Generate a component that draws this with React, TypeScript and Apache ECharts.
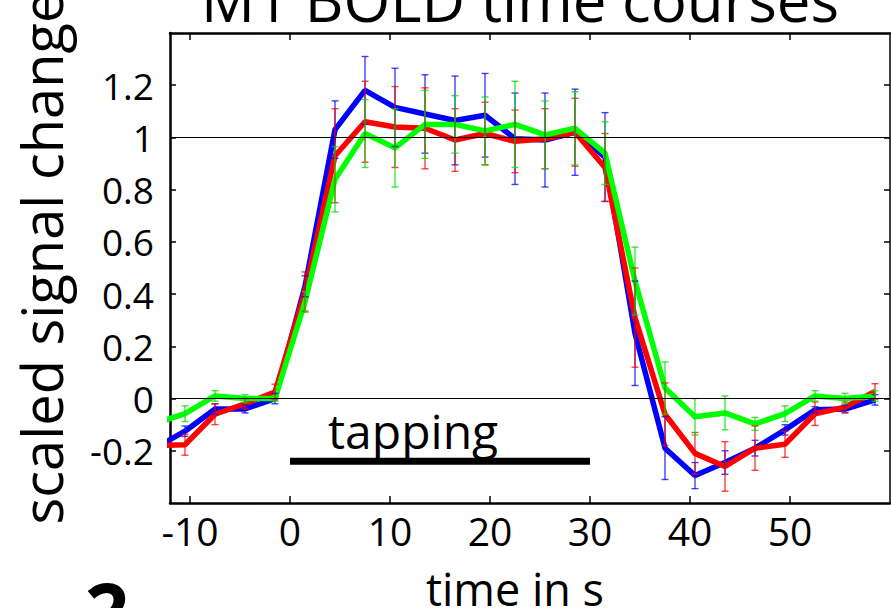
import React, { useEffect, useRef } from "react";
import * as echarts from "echarts";

// time points (s)
const T = [-13.5, -10.5, -7.5, -4.5, -1.5, 1.5, 4.5, 7.5, 10.5, 13.5, 16.5, 19.5, 22.5, 25.5, 28.5, 31.5, 34.5, 37.5, 40.5, 43.5, 46.5, 49.5, 52.5, 55.5, 58.5];

const blueVals = [-0.19, -0.125, -0.04, -0.04, 0.0, 0.43, 1.03, 1.18, 1.115, 1.09, 1.065, 1.085, 0.995, 0.99, 1.02, 0.925, 0.25, -0.19, -0.295, -0.245, -0.19, -0.12, -0.043, -0.04, -0.005];
const blueErr = [null, 0.02, 0.02, 0.015, 0.02, 0.04, 0.11, 0.13, 0.15, 0.15, 0.17, 0.16, 0.175, 0.18, 0.165, 0.17, 0.2, 0.12, 0.05, 0.045, 0.03, 0.02, 0.012, 0.015, 0.02];

const redVals = [-0.18, -0.177, -0.06, -0.02, 0.025, 0.41, 0.93, 1.06, 1.04, 1.035, 0.99, 1.015, 0.985, 0.995, 1.02, 0.885, 0.31, -0.06, -0.21, -0.26, -0.19, -0.175, -0.058, -0.033, 0.027];
const redErr = [null, 0.04, 0.04, 0.02, 0.03, 0.075, 0.18, 0.155, 0.155, 0.155, 0.12, 0.12, 0.12, 0.115, 0.13, 0.13, 0.19, 0.12, 0.08, 0.095, 0.085, 0.05, 0.045, 0.02, 0.03];

const greenVals = [-0.095, -0.058, 0.01, 0.0, 0.0, 0.37, 0.84, 1.015, 0.96, 1.05, 1.05, 1.025, 1.05, 1.01, 1.035, 0.94, 0.45, 0.04, -0.07, -0.055, -0.097, -0.058, 0.01, 0.0, 0.01];
const greenErr = [null, 0.03, 0.02, 0.015, 0.01, 0.04, 0.125, 0.13, 0.15, 0.13, 0.11, 0.13, 0.165, 0.13, 0.14, 0.12, 0.13, 0.1, 0.07, 0.065, 0.025, 0.03, 0.02, 0.02, 0.02];

const xTicks = [-10, 0, 10, 20, 30, 40, 50];
const yTicks = [-0.2, 0, 0.2, 0.4, 0.6, 0.8, 1, 1.2];
const refLines = [0, 1];
const tappingStart = 0;
const tappingEnd = 30;
const tappingLevel = -0.24;

const FONT = "'Open Sans', 'DejaVu Sans', sans-serif";

function lineSeries(vals: number[], color: string) {
  return {
    type: "line",
    data: T.map((t, i) => [t, vals[i]]),
    symbol: "none",
    lineStyle: { color, width: 5.5 },
    itemStyle: { color },
    clip: true,
    z: 3,
  };
}

function errSeries(vals: number[], errs: (number | null)[], color: string) {
  const data: number[][] = [];
  T.forEach((t, i) => {
    const e = errs[i];
    if (e != null) data.push([t, vals[i] - e, vals[i] + e]);
  });
  return {
    type: "custom",
    data,
    encode: { x: 0, y: [1, 2] },
    clip: true,
    z: 4,
    renderItem: (params: any, api: any) => {
      const x = api.value(0);
      const p1 = api.coord([x, api.value(1)]);
      const p2 = api.coord([x, api.value(2)]);
      const w = 3.5;
      const style = { stroke: color, lineWidth: 1.4, opacity: 0.75 };
      return {
        type: "group",
        children: [
          { type: "line", shape: { x1: p1[0], y1: p1[1], x2: p2[0], y2: p2[1] }, style },
          { type: "line", shape: { x1: p1[0] - w, y1: p1[1], x2: p1[0] + w, y2: p1[1] }, style },
          { type: "line", shape: { x1: p2[0] - w, y1: p2[1], x2: p2[0] + w, y2: p2[1] }, style },
        ],
      };
    },
  };
}

export default function App() {
  const ref = useRef<HTMLDivElement>(null);
  useEffect(() => {
    if (!ref.current) return;
    const chart = echarts.init(ref.current, null, { renderer: "svg" });
    const axisLineStyle = { color: "#000", width: 2.5 };
    const tickStyle = { color: "#000", width: 1.5 };
    chart.setOption({
      animation: false,
      backgroundColor: "#fff",
      grid: { left: 170, right: 1, top: 33, bottom: 105, containLabel: false },
      xAxis: [
        {
          type: "value",
          min: -12,
          max: 60,
          position: "bottom",
          axisLine: { show: true, onZero: false, lineStyle: axisLineStyle },
          axisTick: { show: true, inside: true, length: 7, customValues: xTicks, lineStyle: tickStyle },
          axisLabel: { show: true, customValues: xTicks, color: "#000", fontFamily: FONT, fontSize: 39, margin: 8 },
          splitLine: { show: false },
        },
        {
          type: "value",
          min: -12,
          max: 60,
          position: "top",
          axisLine: { show: true, onZero: false, lineStyle: axisLineStyle },
          axisTick: { show: true, inside: true, length: 7, customValues: xTicks, lineStyle: tickStyle },
          axisLabel: { show: false },
          splitLine: { show: false },
        },
      ],
      yAxis: [
        {
          type: "value",
          min: -0.4,
          max: 1.4,
          position: "left",
          axisLine: { show: true, onZero: false, lineStyle: axisLineStyle },
          axisTick: { show: true, inside: true, length: 6, customValues: yTicks, lineStyle: tickStyle },
          axisLabel: {
            show: true,
            customValues: yTicks,
            color: "#000",
            fontFamily: FONT,
            fontSize: 37,
            margin: 16,
            formatter: (v: number) => String(Number(v.toFixed(1))),
          },
          splitLine: { show: false },
        },
        {
          type: "value",
          min: -0.4,
          max: 1.4,
          position: "right",
          axisLine: { show: true, onZero: false, lineStyle: { color: "#000", width: 1.5 } },
          axisTick: { show: true, inside: true, length: 6, customValues: yTicks, lineStyle: tickStyle },
          axisLabel: { show: false },
          splitLine: { show: false },
        },
      ],
      series: [
        {
          type: "line",
          data: [
            [tappingStart, tappingLevel],
            [tappingEnd, tappingLevel],
          ],
          symbol: "none",
          lineStyle: { color: "#000", width: 7, cap: "butt" },
          z: 2,
          markLine: {
            silent: true,
            symbol: ["none", "none"],
            label: { show: false },
            lineStyle: { color: "#000", width: 1, type: "solid" },
            data: refLines.map((v) => ({ yAxis: v })),
          },
        },
        lineSeries(blueVals, "#0000ff"),
        lineSeries(redVals, "#ff0000"),
        lineSeries(greenVals, "#00ff00"),
        errSeries(blueVals, blueErr, "#0000ff"),
        errSeries(redVals, redErr, "#ff0000"),
        errSeries(greenVals, greenErr, "#00dd00"),
      ],
      graphic: [
        {
          type: "text",
          x: 520,
          y: -1,
          style: { text: "M1 BOLD time courses", fontFamily: FONT, fontSize: 60, fill: "#000", textAlign: "center", textVerticalAlign: "middle" },
        },
        {
          type: "text",
          x: 41,
          y: 258,
          rotation: Math.PI / 2,
          style: { text: "scaled signal change", fontFamily: FONT, fontSize: 56, fill: "#000", textAlign: "center", textVerticalAlign: "middle" },
        },
        {
          type: "text",
          x: 515,
          y: 588,
          style: { text: "time in s", fontFamily: FONT, fontSize: 45, fill: "#000", textAlign: "center", textVerticalAlign: "middle" },
        },
        {
          type: "text",
          x: 328,
          y: 430,
          style: { text: "tapping", fontFamily: FONT, fontSize: 48, fill: "#000", textAlign: "left", textVerticalAlign: "middle" },
        },
        {
          type: "text",
          x: 107,
          y: 610,
          style: { text: "2", fontFamily: FONT, fontSize: 78, fontWeight: "bold", fill: "#000", textAlign: "center", textVerticalAlign: "middle" },
        },
      ],
    });
    return () => chart.dispose();
  }, []);
  return <div ref={ref} style={{ position: "fixed", left: 0, top: 0, width: 891, height: 608 }} />;
}
